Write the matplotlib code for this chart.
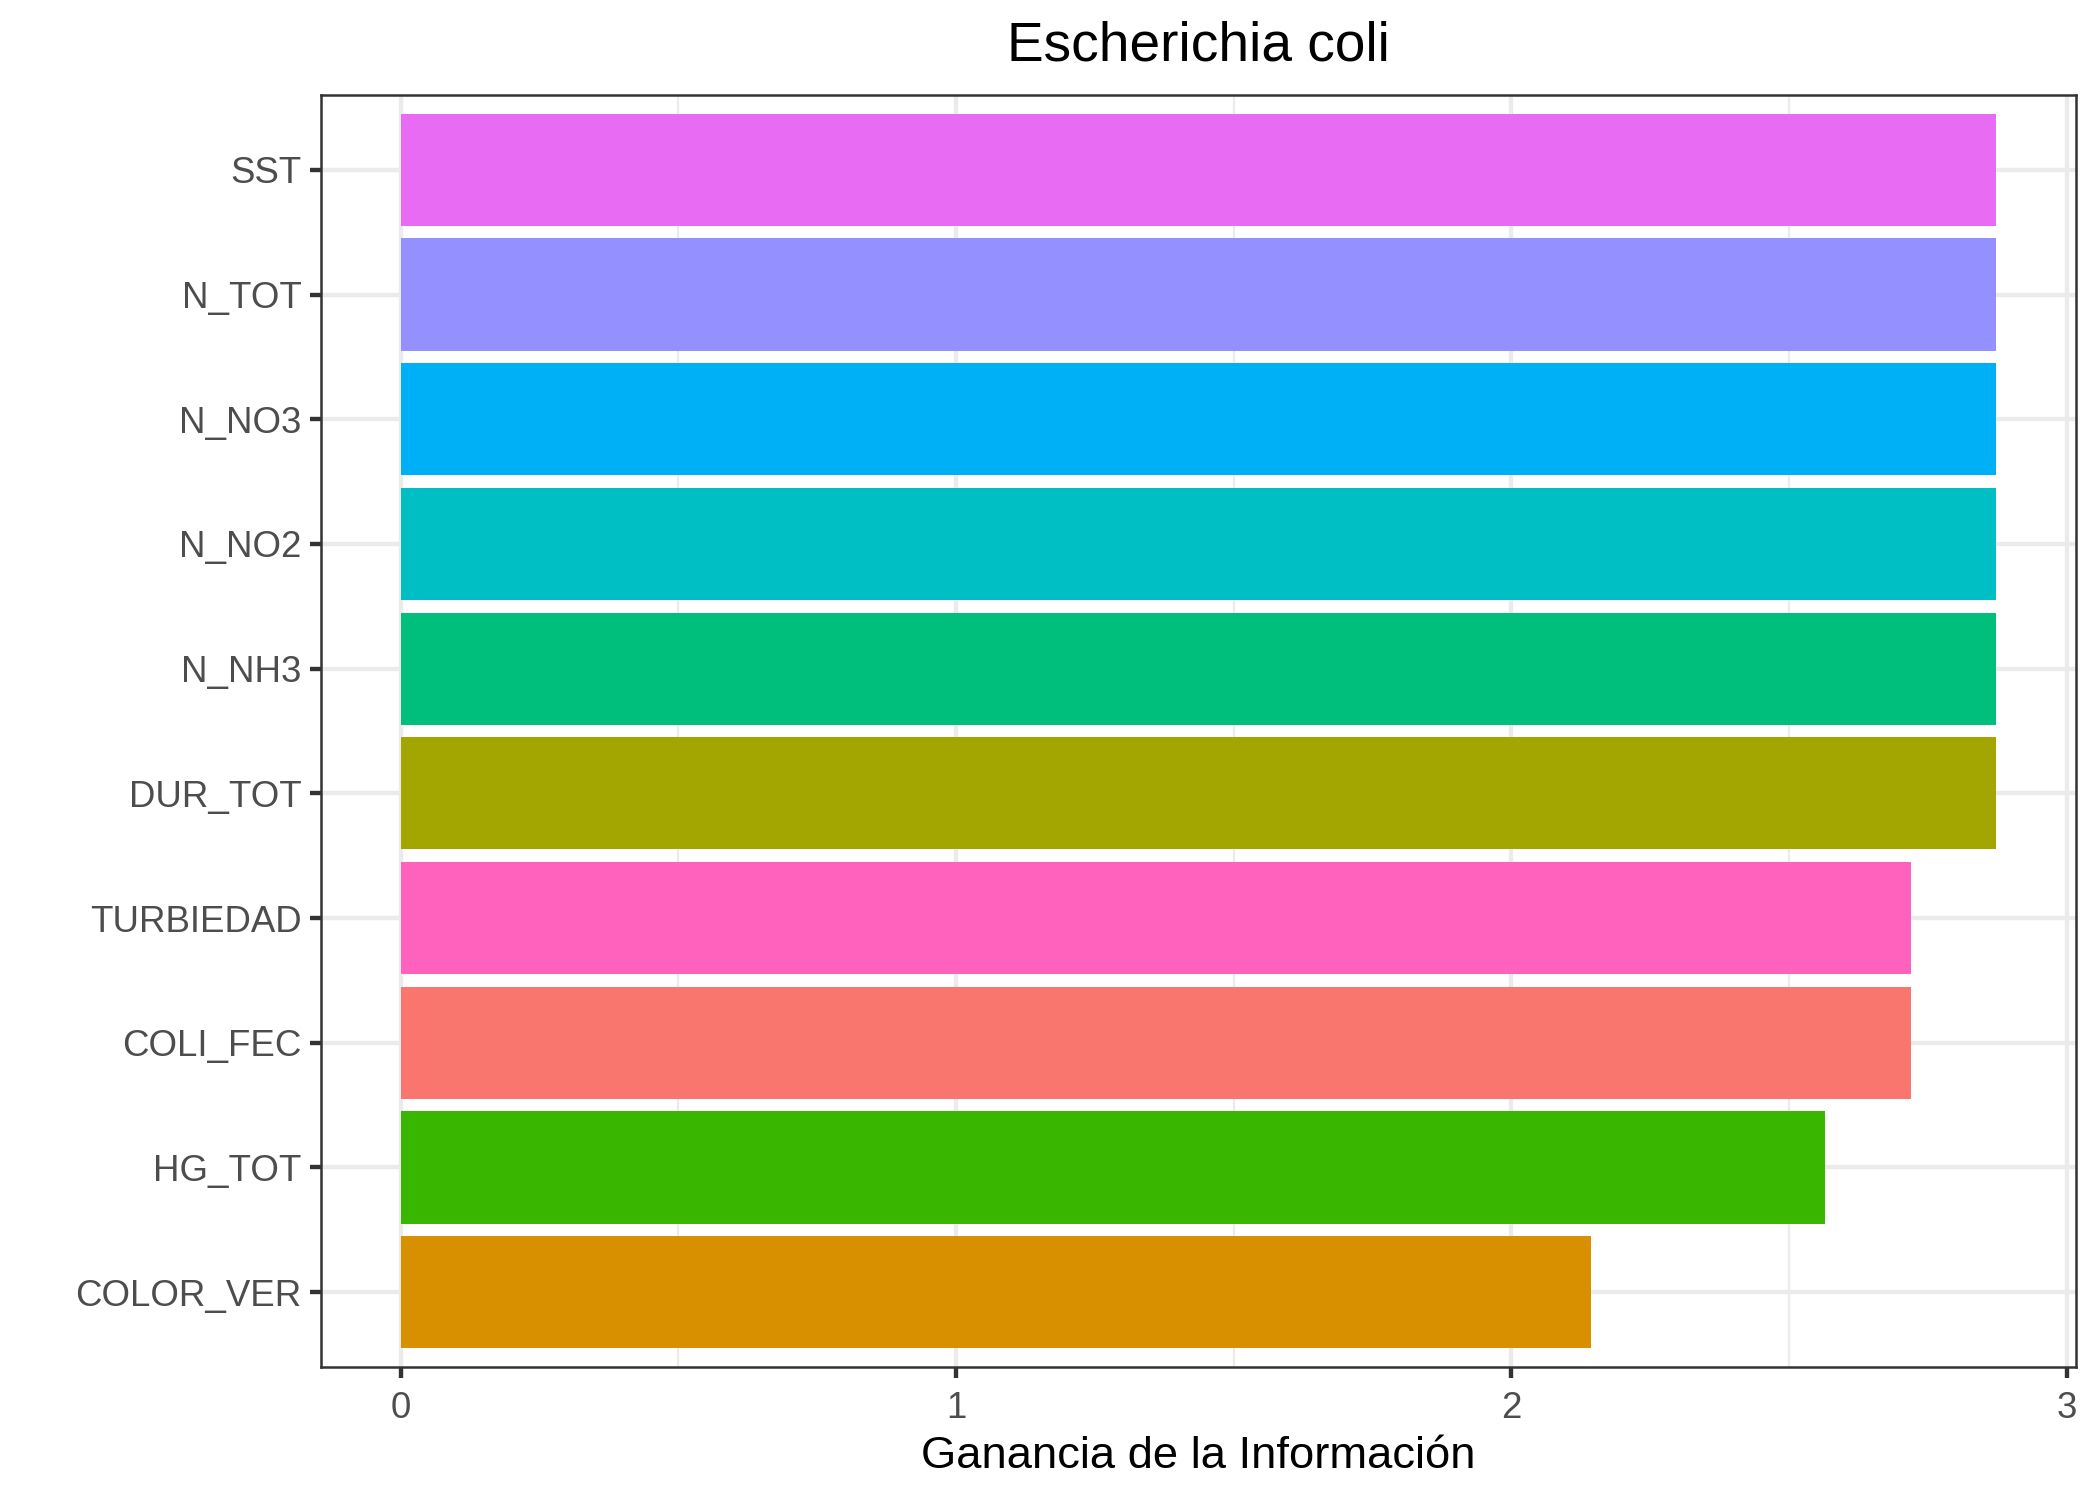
import matplotlib
matplotlib.use("Agg")
import matplotlib.pyplot as plt
from matplotlib.ticker import MultipleLocator

plt.rcParams['font.family'] = ['Liberation Sans', 'DejaVu Sans']

# Data (bottom to top)
categories = ["COLOR_VER", "HG_TOT", "COLI_FEC", "TURBIEDAD", "DUR_TOT",
              "N_NH3", "N_NO2", "N_NO3", "N_TOT", "SST"]
values = [2.143, 2.565, 2.720, 2.720, 2.873, 2.873, 2.873, 2.873, 2.873, 2.873]
colors = ["#D89000", "#39B600", "#F8766D", "#FF62BC", "#A3A500",
          "#00BF7D", "#00BFC4", "#00B0F6", "#9590FF", "#E76BF3"]
xticks = [0, 1, 2, 3]
title = "Escherichia coli"
xlabel = "Ganancia de la Información"

fig = plt.figure(figsize=(7, 1499 / 300), dpi=300)
ax = fig.add_axes([321 / 2100, 1 - 1367 / 1499, (2076 - 321) / 2100, (1367 - 95) / 1499])

ypos = list(range(len(categories)))
ax.barh(ypos, values, height=0.9, color=colors, zorder=3)

vmax = max(values)
ax.set_xlim(-0.05 * vmax, 1.05 * vmax)
ax.set_ylim(-0.6, len(categories) - 0.4)

ax.set_xticks(xticks)
ax.set_xticklabels([str(t) for t in xticks])
ax.xaxis.set_minor_locator(MultipleLocator(0.5))
ax.set_yticks(ypos)
ax.set_yticklabels(categories)

ax.grid(True, which='major', color='#EBEBEB', linewidth=1.05, zorder=0)
ax.grid(True, which='minor', axis='x', color='#EBEBEB', linewidth=0.55, zorder=0)
ax.set_axisbelow(True)

ax.tick_params(axis='both', which='major', length=2.75, width=1.05, color='#333333',
               labelcolor='#4D4D4D', labelsize=8.8)
ax.tick_params(axis='x', which='major', pad=3.0)
ax.tick_params(axis='y', which='major', pad=1.9)
ax.tick_params(axis='x', which='minor', length=0)

for s in ax.spines.values():
    s.set_color('#333333')
    s.set_linewidth(0.6)
    s.set_zorder(4)

ax.set_title(title, fontsize=13.2, color='black', pad=8.2)
ax.set_xlabel(xlabel, fontsize=10.9, color='black', labelpad=2.4)

fig.savefig("out.png", dpi=300, facecolor='white')
